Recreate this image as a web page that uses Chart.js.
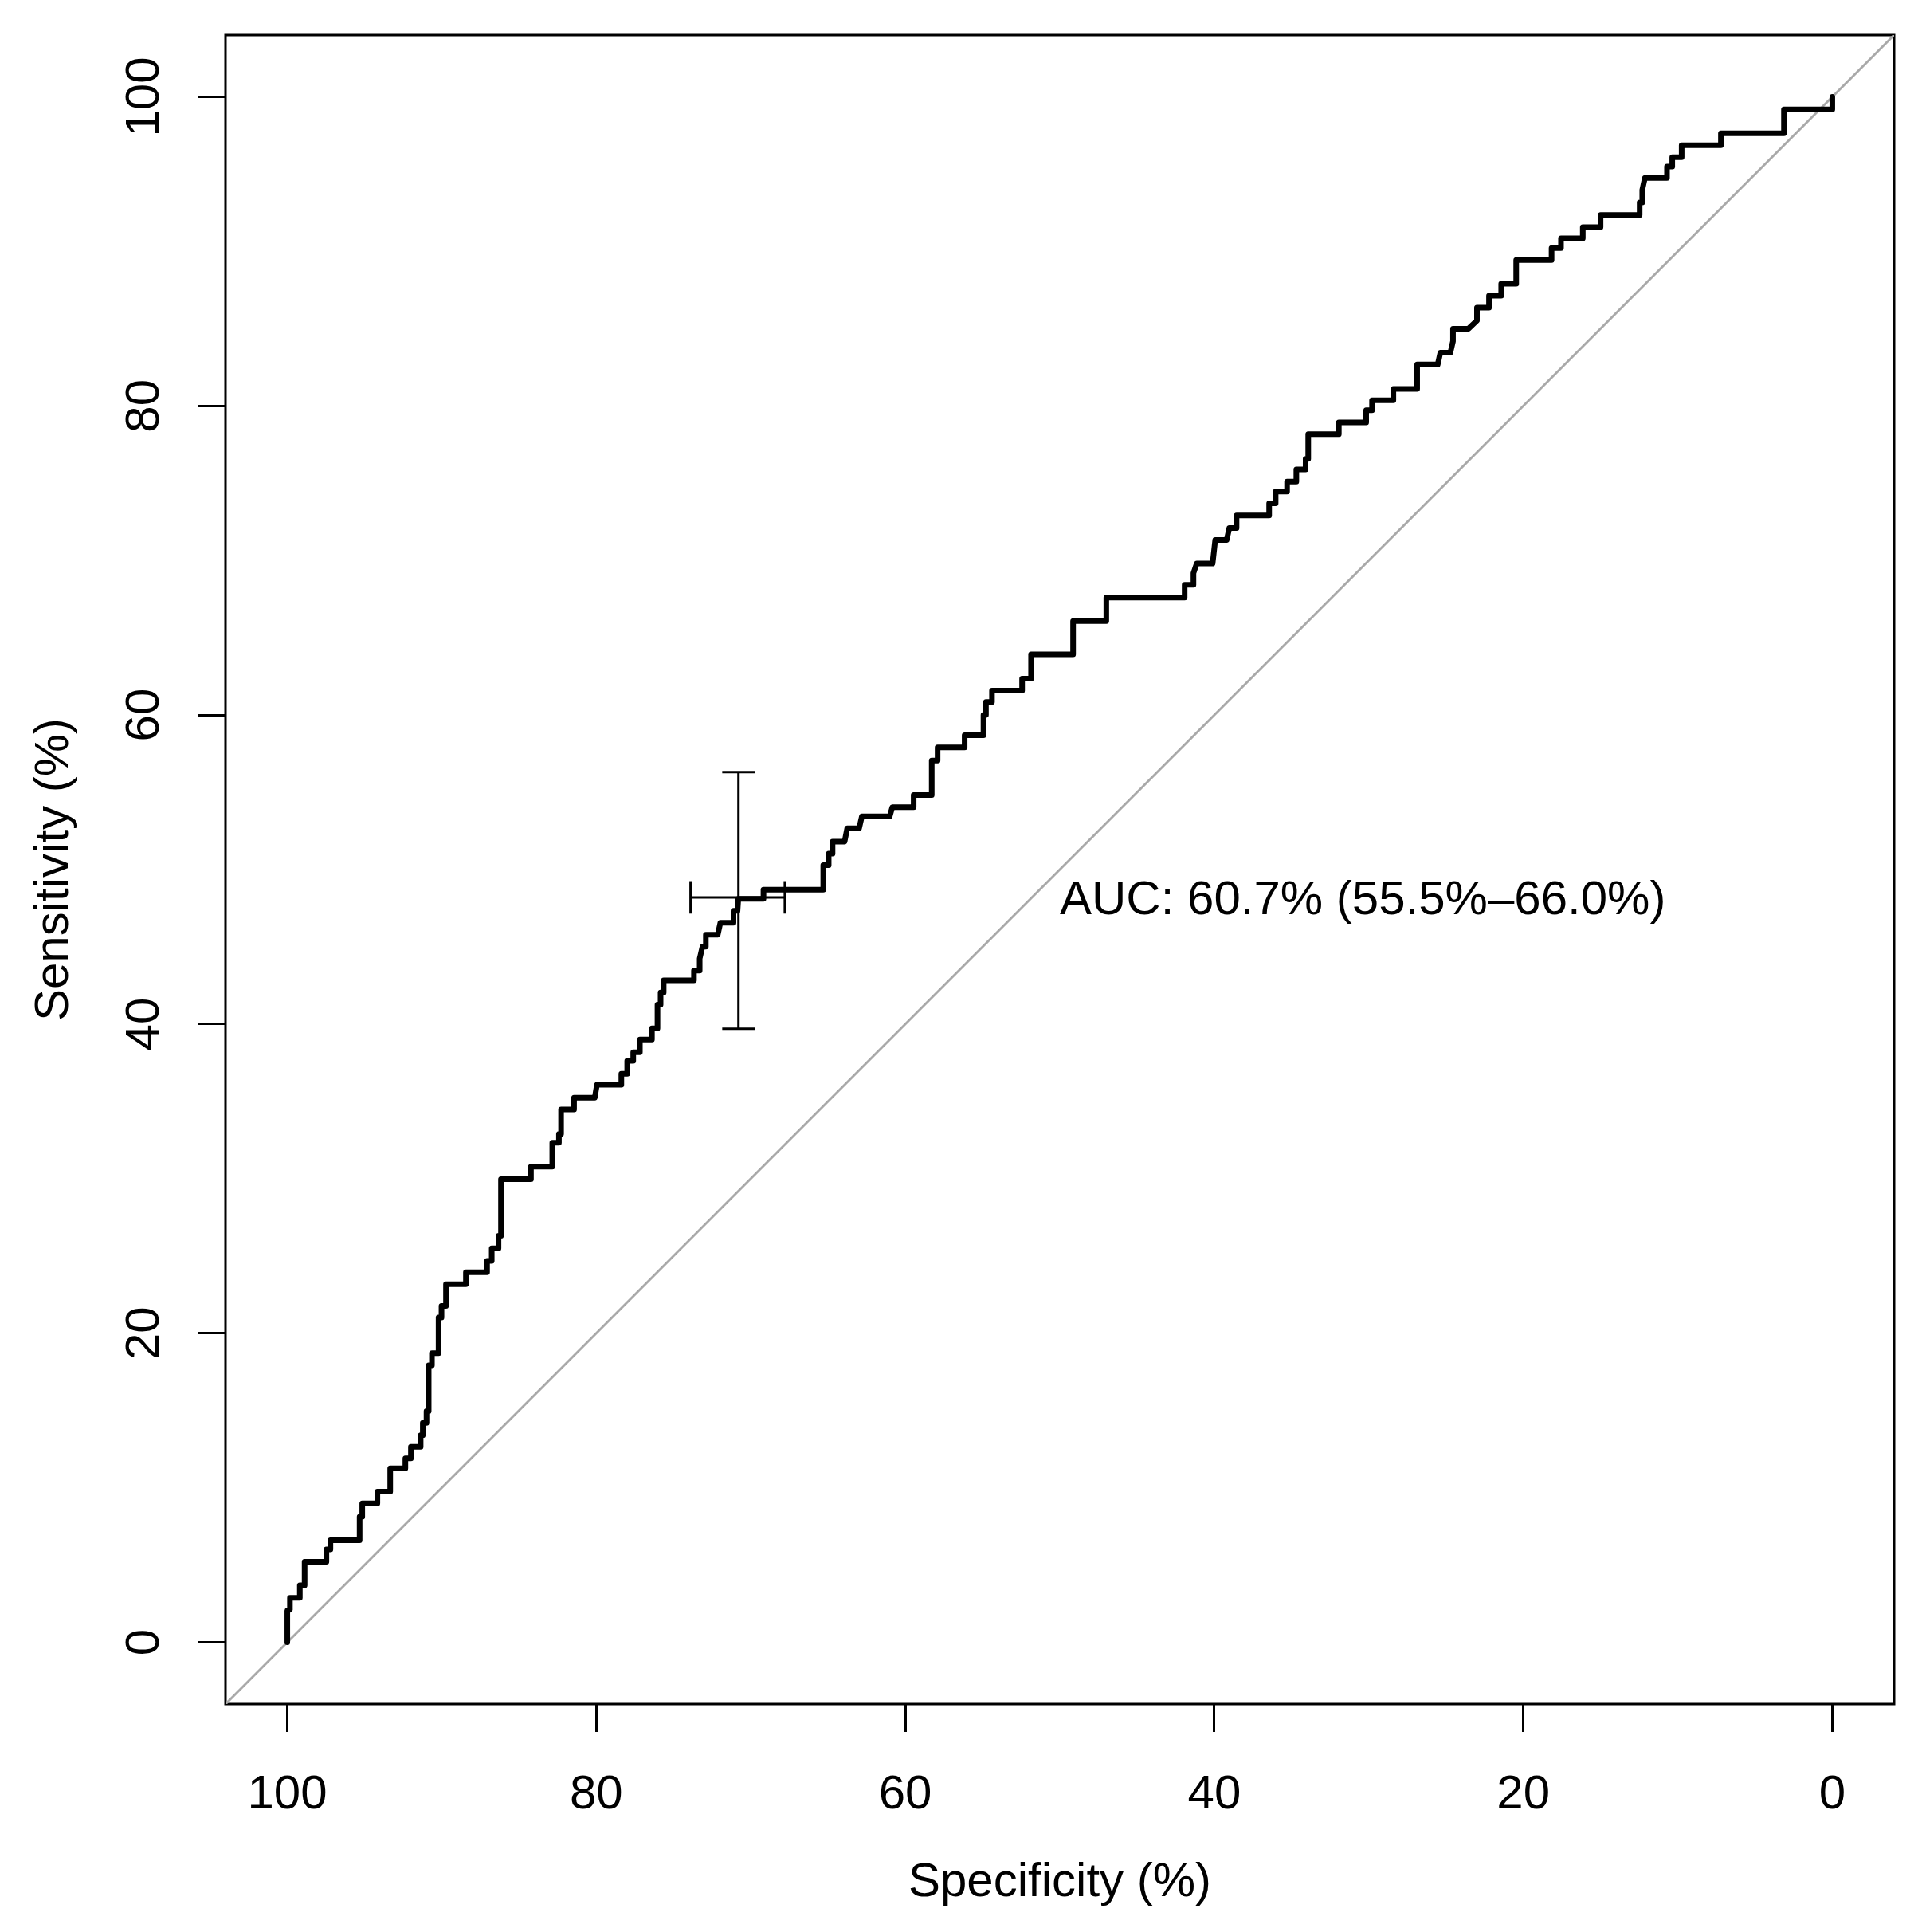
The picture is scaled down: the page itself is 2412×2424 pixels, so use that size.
<!DOCTYPE html>
<html>
<head>
<meta charset="utf-8">
<script src="https://cdn.jsdelivr.net/npm/chart.js@4/dist/chart.umd.min.js"></script>
<style>
  html, body { margin: 0; padding: 0; background: #ffffff; }
  canvas { display: block; }
</style>
</head>
<body>
<canvas id="c" width="2412" height="2424"></canvas>
<script>
// ---------- data ----------
const specificity = [
  100, 100, 99.83, 99.83, 99.19, 99.19, 98.88, 98.88, 97.47, 97.47,
  97.21, 97.21, 95.32, 95.32, 95.15, 95.15, 94.17, 94.17, 93.34, 93.34,
  92.36, 92.36, 92.0, 92.0, 91.37, 91.37, 91.23, 91.23, 90.99, 90.99,
  90.85, 90.85, 90.64, 90.64, 90.21, 90.21, 90.02, 90.02, 89.73, 89.73,
  88.44, 88.44, 87.07, 87.07, 86.77, 86.77, 86.33, 86.33, 86.17, 86.17,
  84.23, 84.23, 82.85, 82.85, 82.42, 82.42, 82.28, 82.28, 81.44, 81.44,
  80.1, 79.96, 78.38, 78.38, 78.0, 78.0, 77.61, 77.61, 77.18, 77.18,
  76.4, 76.4, 76.04, 76.04, 75.84, 75.84, 75.64, 75.64, 73.68, 73.68,
  73.31, 73.31, 73.13, 72.91, 72.91, 72.14, 71.97, 71.12, 71.12, 70.86,
  70.81, 69.18, 69.18, 65.31, 65.31, 64.96, 64.96, 64.71, 64.71, 63.93,
  63.76, 62.99, 62.81, 61.01, 60.84, 59.46, 59.46, 58.29, 58.29, 57.91,
  57.91, 56.16, 56.16, 54.94, 54.94, 54.78, 54.78, 54.39, 54.39, 52.44,
  52.44, 51.86, 51.86, 49.14, 49.14, 46.99, 46.99, 41.92, 41.92, 41.35,
  41.35, 41.14, 40.11, 39.94, 39.2, 39.03, 38.56, 38.56, 36.45, 36.45,
  36.03, 36.03, 35.29, 35.29, 34.69, 34.69, 34.09, 34.09, 33.92, 33.92,
  31.94, 31.94, 30.17, 30.17, 29.79, 29.79, 28.41, 28.41, 26.87, 26.87,
  25.54, 25.37, 24.72, 24.55, 24.55, 23.55, 23.0, 23.0, 22.22, 22.22,
  21.43, 21.43, 20.46, 20.46, 18.17, 18.17, 17.56, 17.56, 16.15, 16.15,
  15.0, 15.0, 12.47, 12.47, 12.3, 12.3, 12.13, 10.7, 10.7, 10.36,
  10.36, 9.75, 9.75, 7.21, 7.21, 3.13, 3.13, 0, 0
];
const sensitivity = [
  0, 2.05, 2.1, 2.87, 2.87, 3.68, 3.68, 5.2, 5.2, 6.0,
  6.0, 6.6, 6.6, 8.12, 8.12, 8.98, 8.98, 9.75, 9.75, 11.25,
  11.25, 11.9, 11.9, 12.64, 12.64, 13.4, 13.4, 14.19, 14.19, 14.95,
  14.95, 17.92, 17.92, 18.7, 18.7, 21.02, 21.02, 21.76, 21.76, 23.17,
  23.17, 23.94, 23.94, 24.68, 24.68, 25.49, 25.49, 26.3, 26.3, 29.96,
  29.96, 30.77, 30.77, 32.32, 32.32, 32.89, 32.89, 34.48, 34.48, 35.24,
  35.24, 36.07, 36.07, 36.79, 36.79, 37.62, 37.62, 38.18, 38.18, 39.0,
  39.0, 39.72, 39.72, 41.26, 41.26, 42.04, 42.04, 42.83, 42.83, 43.46,
  43.46, 44.24, 45.01, 45.01, 45.78, 45.78, 46.56, 46.56, 47.33, 47.33,
  48.1, 48.1, 48.7, 48.7, 50.28, 50.28, 51.03, 51.03, 51.81, 51.81,
  52.67, 52.67, 53.44, 53.44, 54.04, 54.04, 54.82, 54.82, 57.05, 57.05,
  57.91, 57.91, 58.69, 58.69, 60.01, 60.01, 60.84, 60.84, 61.58, 61.58,
  62.35, 62.35, 63.93, 63.93, 66.08, 66.08, 67.6, 67.6, 68.42, 68.42,
  69.18, 69.8, 69.8, 71.33, 71.33, 72.1, 72.1, 72.91, 72.91, 73.7,
  73.7, 74.46, 74.46, 75.11, 75.11, 75.89, 75.89, 76.57, 76.57, 78.17,
  78.17, 78.93, 78.93, 79.72, 79.72, 80.36, 80.36, 81.1, 81.1, 82.68,
  82.68, 83.45, 83.45, 84.19, 85.0, 85.0, 85.52, 86.36, 86.36, 87.13,
  87.13, 87.91, 87.91, 89.44, 89.44, 90.21, 90.21, 90.85, 90.85, 91.57,
  91.57, 92.36, 92.36, 93.17, 93.17, 93.98, 94.75, 94.75, 95.49, 95.49,
  96.1, 96.1, 96.87, 96.87, 97.64, 97.64, 99.19, 99.19, 100
];

// best threshold point with its confidence intervals
const bestSpec = 70.8;
const bestSens = 48.2;
const specCI = [67.8, 73.9];
const sensCI = [39.7, 56.3];

const axisRange = [-4, 104];
const xTickValues = [100, 80, 60, 40, 20, 0];
const xTickLabels = ['100', '80', '60', '40', '20', '0'];
const yTickValues = [0, 20, 40, 60, 80, 100];
const yTickLabels = ['0', '20', '40', '60', '80', '100'];

const aucText = 'AUC: 60.7% (55.5%\u201366.0%)';
const xTitle = 'Specificity (%)';
const yTitle = 'Sensitivity (%)';

// ---------- styling constants ----------
const FONT = '"Liberation Sans", Arial, Helvetica, sans-serif';
const FS = 60;
const AUC_POS = [50, 47.1];   // data position of text baseline start
const CAP = 1.05;             // half length of error bar caps (data units)

const rocPoints = specificity.map((s, i) => ({ x: s, y: sensitivity[i] }));
const diagPoints = [{ x: axisRange[1], y: axisRange[0] }, { x: axisRange[0], y: axisRange[1] }];

const thin = { showLine: true, pointRadius: 0, borderColor: '#000000', borderWidth: 3, fill: false };

const overlay = {
  id: 'overlay',
  beforeDatasetsDraw(chart) {
    const { ctx, chartArea: a } = chart;
    ctx.save();
    ctx.strokeStyle = '#000000';
    ctx.lineWidth = 3;
    ctx.strokeRect(a.left, a.top, a.right - a.left, a.bottom - a.top);
    ctx.restore();
  },
  afterDraw(chart) {
    const { ctx, chartArea: a, scales: { x, y } } = chart;
    ctx.save();
    ctx.fillStyle = '#000000';
    ctx.font = FS + 'px ' + FONT;
    ctx.textAlign = 'center';
    ctx.textBaseline = 'alphabetic';
    yTickValues.forEach((v, i) => {
      ctx.save();
      ctx.translate(a.left - 84, y.getPixelForValue(v));
      ctx.rotate(-Math.PI / 2);
      ctx.fillText(yTickLabels[i], 0, 0);
      ctx.restore();
    });
    ctx.textAlign = 'left';
    ctx.fillText(aucText, x.getPixelForValue(AUC_POS[0]), y.getPixelForValue(AUC_POS[1]));
    ctx.restore();
  }
};

new Chart(document.getElementById('c'), {
  type: 'scatter',
  data: {
    datasets: [
      // error bars (top)
      Object.assign({ data: [{ x: bestSpec, y: sensCI[0] }, { x: bestSpec, y: sensCI[1] }] }, thin),
      Object.assign({ data: [{ x: bestSpec - CAP, y: sensCI[0] }, { x: bestSpec + CAP, y: sensCI[0] }] }, thin),
      Object.assign({ data: [{ x: bestSpec - CAP, y: sensCI[1] }, { x: bestSpec + CAP, y: sensCI[1] }] }, thin),
      Object.assign({ data: [{ x: specCI[0], y: bestSens }, { x: specCI[1], y: bestSens }] }, thin),
      Object.assign({ data: [{ x: specCI[0], y: bestSens - CAP }, { x: specCI[0], y: bestSens + CAP }] }, thin),
      Object.assign({ data: [{ x: specCI[1], y: bestSens - CAP }, { x: specCI[1], y: bestSens + CAP }] }, thin),
      // ROC curve
      {
        data: rocPoints, showLine: true, pointRadius: 0, borderColor: '#000000',
        borderWidth: 7, tension: 0, borderJoinStyle: 'round', borderCapStyle: 'round', fill: false
      },
      // chance line (bottom)
      { data: diagPoints, showLine: true, pointRadius: 0, borderColor: '#a9a9a9', borderWidth: 3, fill: false }
    ]
  },
  options: {
    responsive: false,
    devicePixelRatio: 1,
    animation: false,
    events: [],
    layout: { padding: { top: 44, right: 35, left: 0, bottom: 0 } },
    plugins: { legend: { display: false }, tooltip: { enabled: false } },
    scales: {
      x: {
        type: 'linear', reverse: true, min: axisRange[0], max: axisRange[1],
        afterBuildTicks: (s) => { s.ticks = xTickValues.map(v => ({ value: v })); },
        afterFit: (s) => { s.height = 286; },
        border: { display: false },
        grid: { drawOnChartArea: false, drawTicks: true, tickLength: 35, tickWidth: 3, tickColor: '#000000' },
        ticks: {
          color: '#000000', padding: 49, maxRotation: 0, autoSkip: false,
          font: { family: FONT, size: FS, lineHeight: 1 },
          callback: (v, i) => xTickLabels[i]
        },
        title: {
          display: true, text: xTitle, color: '#000000',
          font: { family: FONT, size: FS, lineHeight: 1 },
          padding: { top: 0, bottom: 32 }
        }
      },
      y: {
        type: 'linear', min: axisRange[0], max: axisRange[1],
        afterBuildTicks: (s) => { s.ticks = yTickValues.map(v => ({ value: v })); },
        afterFit: (s) => { s.width = 283; },
        border: { display: false },
        grid: { drawOnChartArea: false, drawTicks: true, tickLength: 35, tickWidth: 3, tickColor: '#000000' },
        ticks: { display: false },
        title: {
          display: true, text: yTitle, color: '#000000',
          font: { family: FONT, size: FS, lineHeight: 1 },
          padding: { top: 38, bottom: 0 }
        }
      }
    }
  },
  plugins: [overlay]
});
</script>
</body>
</html>
